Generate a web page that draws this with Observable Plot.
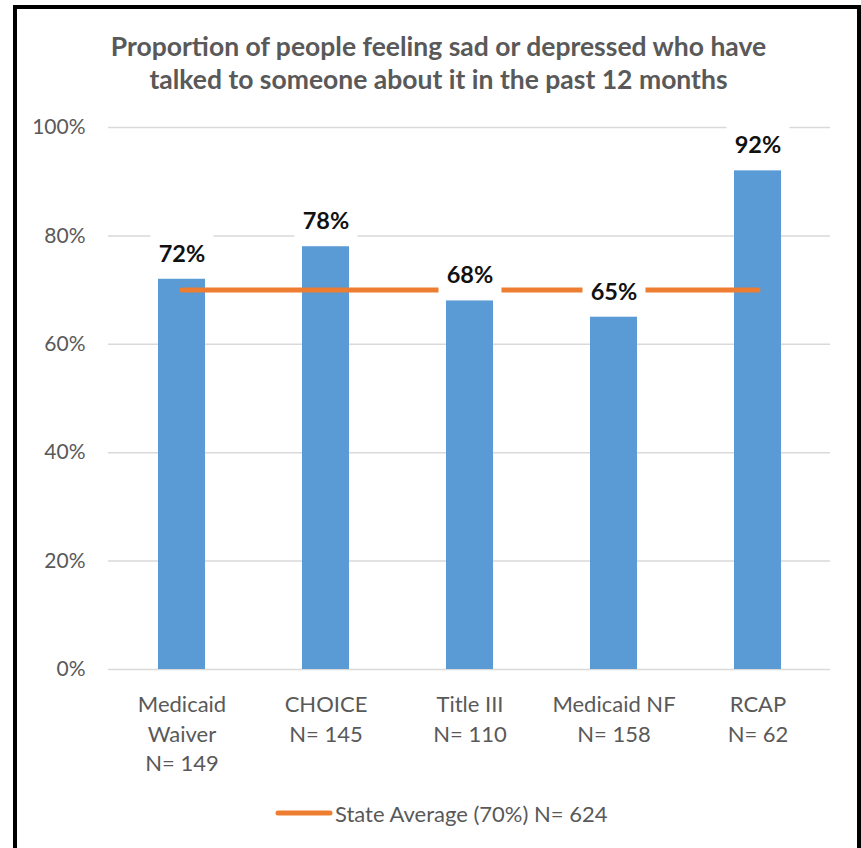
<!DOCTYPE html>
<html>
<head>
<meta charset="utf-8">
<script src="https://cdn.jsdelivr.net/npm/d3@7"></script>
<script src="https://cdn.jsdelivr.net/npm/@observablehq/plot@0.6"></script>
<style>
  html, body { margin: 0; padding: 0; background: #fff; }
  body { width: 861px; height: 848px; position: relative; overflow: hidden; font-family: Lato, "Open Sans", sans-serif; }
  #frame { position: absolute; left: 13px; top: 5px; width: 848px; height: 860px; box-sizing: border-box; border: 4px solid #000; z-index: 5; pointer-events: none; }
  #title { position: absolute; left: 0; width: 877px; top: 30px; text-align: center; font-weight: 700; font-size: 26.5px; line-height: 33px; color: #595959; }
  #chart { position: absolute; left: 0; top: 100px; }
  #chart svg { background: transparent !important; }
  #legend { position: absolute; left: 275px; top: 798px; height: 30px; display: flex; align-items: center; font-size: 22px; color: #595959; }
</style>
</head>
<body>
<div id="title">Proportion of people feeling sad or depressed who have<br>talked to someone about it in the past 12 months</div>
<div id="chart"></div>
<div id="legend"></div>
<div id="frame"></div>
<script>
const categories = ["Medicaid Waiver", "CHOICE", "Title III", "Medicaid NF", "RCAP"];
const categoryLabels = ["Medicaid\nWaiver\nN= 149", "CHOICE\nN= 145", "Title III\nN= 110", "Medicaid NF\nN= 158", "RCAP\nN= 62"];
const values = [72, 78, 68, 65, 92];
const stateAverage = 70;
const legendLabel = "State Average (70%) N= 624";
const yTicks = [0, 20, 40, 60, 80, 100];

const data = categories.map((c, i) => ({cat: c, v: values[i]}));
const avgData = categories.map(c => ({cat: c, v: stateAverage}));
const labelOf = new Map(categories.map((c, i) => [c, categoryLabels[i]]));

const boxSymbol = { draw(ctx) { ctx.rect(-31.5, -20, 63, 40); } };

const chart = Plot.plot({
  width: 861,
  height: 690,
  marginLeft: 108,
  marginRight: 31,
  marginTop: 27,
  marginBottom: 121,
  style: { fontFamily: "Lato, 'Open Sans', sans-serif", background: "transparent" },
  x: { domain: categories, paddingInner: 0.675, paddingOuter: 0.3375, align: 0.5 },
  y: { domain: [0, 100] },
  marks: [
    Plot.gridY(yTicks, { stroke: "#d9d9d9", strokeOpacity: 1, strokeWidth: 1.5 }),
    Plot.axisY(yTicks, { tickSize: 0, tickPadding: 23, tickFormat: d => d + "%", fontSize: 21, fill: "#595959", label: null }),
    Plot.axisX({ tickSize: 0, tickPadding: 22, tickFormat: d => labelOf.get(d), fontSize: 22, fill: "#595959", lineHeight: 1.34, label: null }),
    Plot.barY(data, { x: "cat", y: "v", fill: "#5B9BD5" }),
    Plot.line(avgData, { x: "cat", y: "v", stroke: "#ED7D31", strokeWidth: 5, strokeLinecap: "round" }),
    Plot.dot(data, { x: "cat", y: "v", dy: -25, r: 10, symbol: boxSymbol, fill: "white", stroke: null }),
    Plot.text(data, { x: "cat", y: "v", dy: -25, text: d => d.v + "%", fontSize: 23.5, fontWeight: 700, fill: "#111" })
  ]
});
document.getElementById("chart").appendChild(chart);

const leg = document.getElementById("legend");
const ns = "http://www.w3.org/2000/svg";
const ls = document.createElementNS(ns, "svg");
ls.setAttribute("width", 60); ls.setAttribute("height", 10);
const ln = document.createElementNS(ns, "line");
ln.setAttribute("x1", 3); ln.setAttribute("x2", 55); ln.setAttribute("y1", 5); ln.setAttribute("y2", 5);
ln.setAttribute("stroke", "#ED7D31"); ln.setAttribute("stroke-width", 5); ln.setAttribute("stroke-linecap", "round");
ls.appendChild(ln);
leg.appendChild(ls);
const sp = document.createElement("span");
sp.textContent = legendLabel;
leg.appendChild(sp);
</script>
</body>
</html>
